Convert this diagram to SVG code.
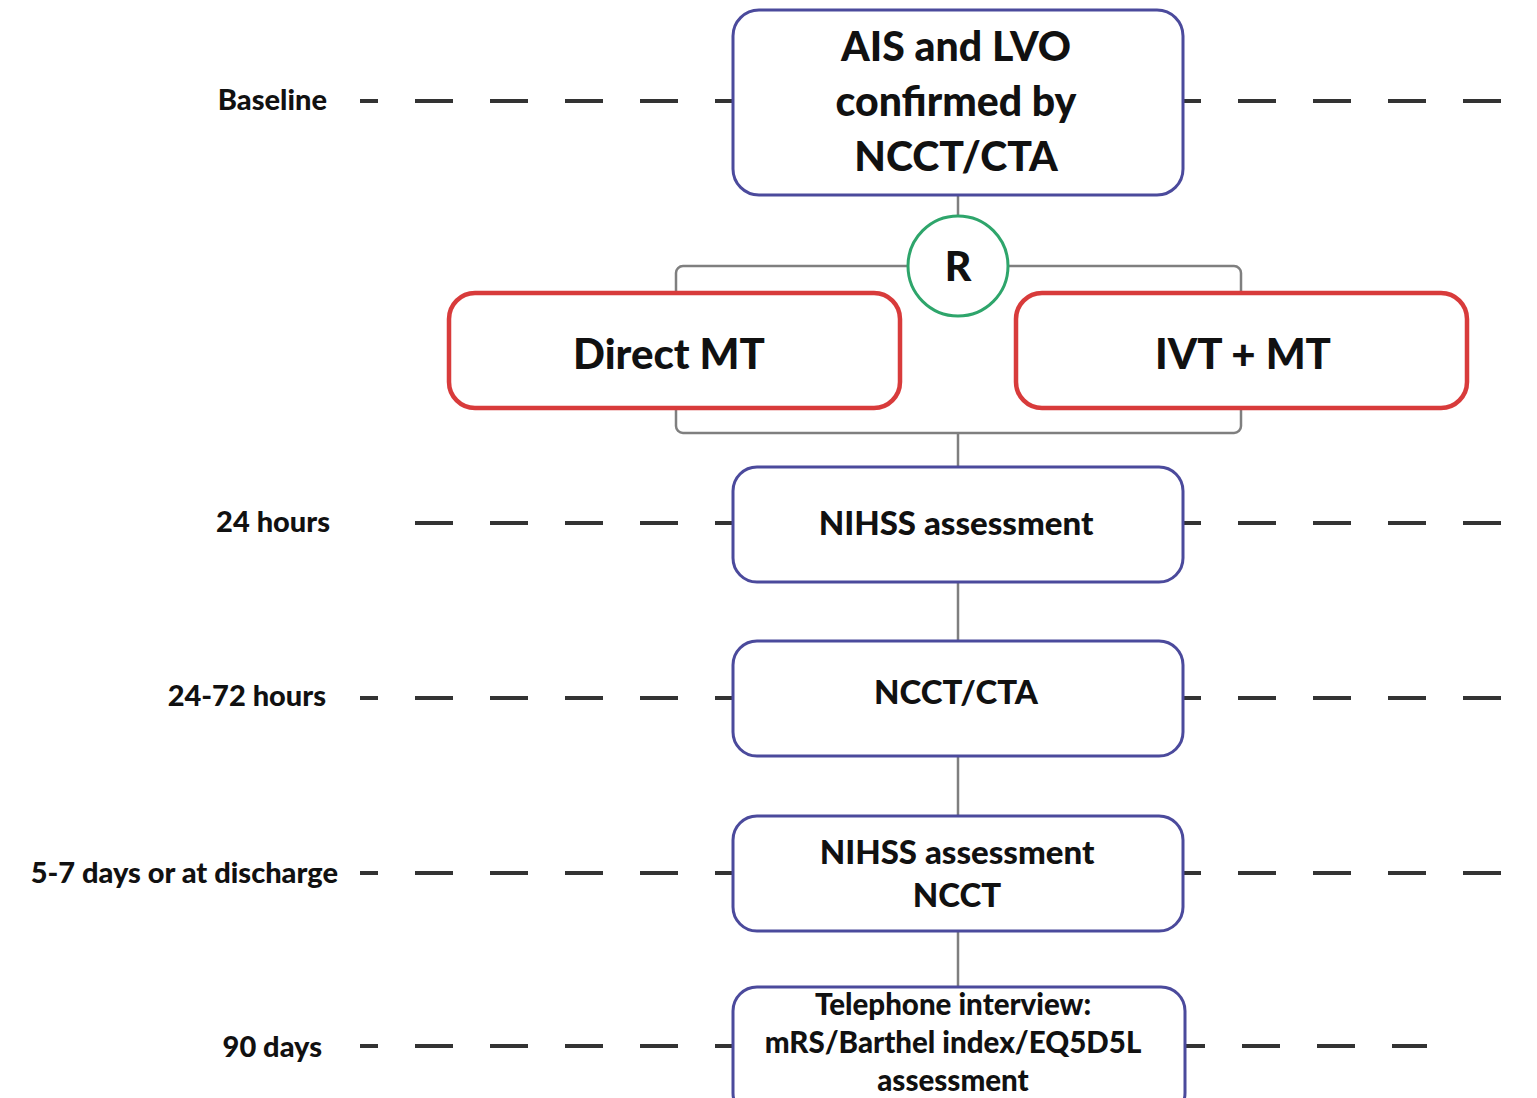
<svg xmlns="http://www.w3.org/2000/svg" width="1537" height="1098" viewBox="0 0 1537 1098">
<style>
.bg{fill:#ffffff}
.box{fill:#ffffff;stroke:#4b4a9c;stroke-width:3}
.arm{fill:#ffffff;stroke:#d83b3b;stroke-width:4.5}
.circ{fill:#ffffff;stroke:#2ea56b;stroke-width:3}
.con{fill:none;stroke:#7f7f7f;stroke-width:2.5}
.dash{stroke:#333333;stroke-width:4;stroke-dasharray:38 37}
text{font-family:Lato,"Open Sans","Liberation Sans",sans-serif;font-weight:900;fill:#111111;text-anchor:middle}
.lbl{font-size:29px;text-anchor:end}
.t1{font-size:41px}
.t2{font-size:42px}
.t3{font-size:33px}
.t4{font-size:29.5px}
</style>
<rect class="bg" x="0" y="0" width="1537" height="1098"/>
<g id="timeline">
<line class="dash" x1="360" y1="101" x2="733" y2="101" stroke-dashoffset="20"/>
<line class="dash" x1="1184" y1="101" x2="1537" y2="101" stroke-dashoffset="21"/>
<line class="dash" x1="415" y1="523" x2="733" y2="523"/>
<line class="dash" x1="1184" y1="523" x2="1537" y2="523" stroke-dashoffset="21"/>
<line class="dash" x1="360" y1="698" x2="733" y2="698" stroke-dashoffset="20"/>
<line class="dash" x1="1184" y1="698" x2="1537" y2="698" stroke-dashoffset="21"/>
<line class="dash" x1="360" y1="873" x2="733" y2="873" stroke-dashoffset="20"/>
<line class="dash" x1="1184" y1="873" x2="1537" y2="873" stroke-dashoffset="21"/>
<line class="dash" x1="360" y1="1046" x2="733" y2="1046" stroke-dashoffset="20"/>
<line class="dash" x1="1186" y1="1046" x2="1427" y2="1046" stroke-dashoffset="19"/>
<text class="lbl" x="327" y="110">Baseline</text>
<text class="lbl" x="330" y="532">24 hours</text>
<text class="lbl" x="326" y="706">24-72 hours</text>
<text class="lbl" x="338" y="883">5-7 days or at discharge</text>
<text class="lbl" x="322" y="1057">90 days</text>
</g>
<g id="connectors">
<rect class="con" x="676" y="266" width="565" height="167" rx="7"/>
<line class="con" x1="958" y1="195" x2="958" y2="216"/>
<line class="con" x1="958" y1="433" x2="958" y2="467"/>
<line class="con" x1="958" y1="582" x2="958" y2="641"/>
<line class="con" x1="958" y1="756" x2="958" y2="816"/>
<line class="con" x1="958" y1="931" x2="958" y2="987"/>
</g>
<g id="node-baseline">
<rect class="box" x="733" y="10" width="450" height="185" rx="26"/>
<text class="t1" x="956" y="61">AIS and LVO</text>
<text class="t1" x="956" y="116">confirmed by</text>
<text class="t1" x="956" y="171">NCCT/CTA</text>
</g>
<g id="node-r">
<circle class="circ" cx="958" cy="266" r="50"/>
<text class="t1" x="958" y="281">R</text>
</g>
<g id="node-direct">
<rect class="arm" x="449" y="293" width="451" height="115" rx="26"/>
<text class="t2" x="669" y="369">Direct MT</text>
</g>
<g id="node-ivt">
<rect class="arm" x="1016" y="293" width="451" height="115" rx="26"/>
<text class="t2" x="1243" y="369">IVT + MT</text>
</g>
<g id="node-24h">
<rect class="box" x="733" y="467" width="450" height="115" rx="24"/>
<text class="t3" x="956" y="535">NIHSS assessment</text>
</g>
<g id="node-2472h">
<rect class="box" x="733" y="641" width="450" height="115" rx="24"/>
<text class="t3" x="956" y="704">NCCT/CTA</text>
</g>
<g id="node-discharge">
<rect class="box" x="733" y="816" width="450" height="115" rx="24"/>
<text class="t3" x="957" y="864">NIHSS assessment</text>
<text class="t3" x="957" y="907">NCCT</text>
</g>
<g id="node-90d">
<rect class="box" x="733" y="987" width="452" height="130" rx="24"/>
<text class="t4" x="953" y="1015">Telephone interview:</text>
<text class="t4" x="953" y="1053">mRS/Barthel index/EQ5D5L</text>
<text class="t4" x="953" y="1091">assessment</text>
</g>
</svg>
